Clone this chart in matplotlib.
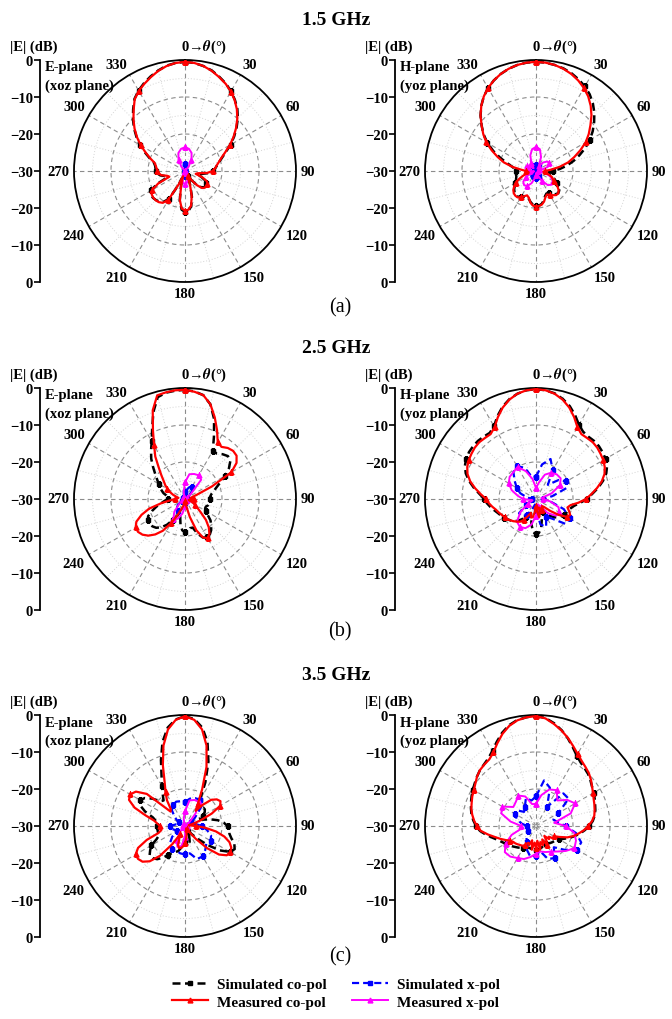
import numpy as np
import matplotlib.pyplot as plt
from matplotlib.lines import Line2D

plt.rcParams['font.family'] = ['Liberation Serif', 'DejaVu Serif']
plt.rcParams['font.weight'] = 'bold'
plt.rcParams['mathtext.fontset'] = 'stix'

th5 = np.arange(0, 361, 5)
th10 = np.arange(0, 361, 10)

# ---------------- 1.5 GHz, E-plane ----------------
e15_sim_co = [-0.5, -0.7, -1.2, -1.9, -2.9, -3.9, -5.1, -6.5, -8, -9.8, -11.8, -13.8,
              -15.8, -17.8, -19.3, -20.4, -21.2, -21.8, -22.3, -23.5, -25.5, -26.5, -25.3, -24,
              -23.3, -23, -23.2, -23.8, -25.2, -27, -28.3, -27.8, -25.8, -22.8, -20.3, -19.2,
              -19, -19.5, -21.8, -25.8, -28.3, -25.8, -21.3, -19.8, -19.2, -18.9, -18.7, -18.8,
              -19.5, -21.5, -24.8, -24.6, -23.2, -22.5, -22.2, -22, -21.8, -21.3, -19.8, -18,
              -16, -14, -12, -10.1, -8.2, -6.2, -4.9, -3.8, -2.8, -1.9, -1.1, -0.7,
              -0.5]
e15_meas_co = [-0.5, -0.7, -1.2, -2, -3, -4, -5.2, -6.6, -8.2, -10, -12, -14,
               -16, -18, -19.5, -20.5, -21.3, -21.8, -22.5, -24, -26.5, -27, -25, -23.5,
               -23, -22.8, -23, -23.5, -25, -27, -28.5, -28, -26, -23, -20.5, -19.5,
               -19.3, -19.8, -22, -26, -28.5, -26, -21, -19.5, -19, -18.8, -18.8, -19,
               -19.8, -22, -25.5, -25, -23.5, -22.8, -22.5, -22.3, -22, -21.5, -20, -18.3,
               -16.2, -14.2, -12.2, -10.3, -8.4, -6.3, -5, -4, -3, -2, -1.2, -0.7,
               -0.5]
e15_sim_x = [-28, -28.3, -29.2, -30, -30, -30, -30, -30, -30, -30,
             -30, -30, -30, -30, -30, -30, -29.8, -29.2, -28.7, -29.2,
             -29.8, -30, -30, -30, -30, -30, -30, -30, -30, -30,
             -30, -30, -30, -30, -29.2, -28.3, -28]
e15_meas_x = [-23.6, -23.9, -24.8, -26.5, -28.5, -30, -30, -30, -30, -30,
              -30, -30, -30, -30, -30, -29.5, -28, -26.8, -26.4, -26.8,
              -28, -29.5, -30, -30, -30, -30, -30, -30, -30, -30,
              -30, -30, -28.5, -26.5, -24.8, -23.9, -23.6]

# ---------------- 1.5 GHz, H-plane ----------------
h15_sim_co = [-0.5, -0.6, -0.9, -1.3, -1.9, -2.7, -3.6, -4.7, -6.1, -7.7, -9.5, -11.3,
              -13.2, -15.3, -17.5, -19.5, -21.5, -23.5, -25.5, -26.5, -26.5, -25.8, -25, -24.3,
              -23.5, -22.5, -21.8, -21.5, -21.8, -22.5, -23, -23.3, -22.8, -21.8, -21, -20.6,
              -20.5, -20.8, -21.5, -22.3, -22.7, -22.3, -21.8, -21.5, -21.5, -21.8, -22.3, -23,
              -23.5, -24, -24.3, -24.5, -24.5, -24.5, -24.5, -24.3, -23.5, -22, -19.8, -17.3,
              -14.8, -12.7, -10.8, -8.8, -7, -5.4, -4.1, -3, -2.1, -1.4, -0.9, -0.6,
              -0.5]
h15_meas_co = [-0.5, -0.6, -0.9, -1.4, -2.1, -3, -4.1, -5.4, -7, -8.8, -10.8, -12.6,
               -14.5, -16.8, -19, -21, -23.5, -26, -27.5, -28, -27.5, -26.5, -25.5, -25,
               -24.5, -23, -22, -21.5, -21.5, -22, -22.5, -23, -22.5, -21.5, -20.8, -20.5,
               -20.4, -20.6, -21.3, -22.5, -23, -22.5, -21.8, -21.3, -21.3, -21.5, -22, -22.8,
               -23.7, -25, -26.3, -27.5, -28, -27.8, -27.3, -26, -23.5, -21, -19, -16.8,
               -14.5, -12.6, -10.8, -8.8, -7, -5.4, -4.1, -3, -2.1, -1.4, -0.9, -0.6,
               -0.5]
h15_sim_x = [-28.5, -28.5, -29, -28.5, -28, -28.5, -29.5, -29.5, -29.5, -29.5,
             -29.5, -29.5, -29.5, -28.5, -28, -28.5, -29, -28.5, -28, -28.5,
             -29, -28.5, -28, -28.5, -29.5, -29.5, -29.5, -29.5, -29.5, -29.5,
             -29.5, -28.5, -28, -28.5, -29, -28.5, -28.5]
h15_meas_x = [-23.5, -24, -26, -28.5, -27, -26, -25.8, -26.5, -28.5, -29.5,
              -28, -26, -24.7, -24.3, -25, -27, -29, -29.5, -29, -28,
              -26.5, -25.3, -25, -25.5, -27, -29, -29.5, -28.5, -27.5, -27,
              -27.3, -28.5, -29, -27.5, -25.5, -24, -23.5]

# ---------------- 2.5 GHz, E-plane ----------------
e25_sim_co = [-0.5, -0.8, -1.5, -3.5, -7, -11.5, -15, -15, -14.2, -13.6, -14, -15.5,
              -17.5, -19.5, -21, -22, -22.8, -23.2, -23.3, -23.2, -23.3, -23.5, -24, -24,
              -23.5, -22.5, -21, -20, -19, -18.3, -18, -18.5, -20, -22, -22, -21,
              -21, -21.5, -23, -25, -26, -25, -23.5, -21.5, -20, -19, -18.5, -18.3,
              -18.4, -19, -20.5, -22, -23.5, -24.5, -25.5, -25.5, -25, -24, -23.3, -22.5,
              -21.8, -20.8, -19.5, -17.8, -15.8, -14, -12, -9, -5, -1.5, -0.8, -0.6,
              -0.5]
e25_meas_co = [-0.5, -0.9, -1.5, -3.5, -6.5, -9.5, -12.3, -12.8, -12, -11.6, -11.8, -13,
               -15.5, -22, -26.5, -28, -28.5, -28, -27.5, -28, -28.5, -29, -28.5, -27.5,
               -27, -26, -24.5, -22, -20, -18.5, -17.8, -18.5, -21, -25, -28, -29,
               -29.5, -29, -28.5, -28, -27, -25, -22.5, -19.5, -17.5, -16, -15, -14.5,
               -14.6, -15.5, -17.5, -20, -23.5, -26, -27.3, -28, -28.2, -27.5, -26.5, -25.5,
               -24.5, -23.5, -22.5, -21, -19, -16, -13.3, -9.5, -4.5, -1, -0.7, -0.5,
               -0.5]
e25_sim_x = [-28, -27.5, -26.6, -26.2, -26.8, -28.5, -29.5, -29.5, -29.5, -29.5,
             -29.5, -29.5, -29.5, -29.5, -29.5, -29.5, -29.5, -29.5, -29, -28,
             -26.8, -26.1, -26.3, -27.5, -29, -29.5, -29.5, -29.5, -29.5, -29.5,
             -29.5, -29.5, -29.5, -29.5, -29.5, -29, -28]
e25_meas_x = [-25.5, -23.2, -22.8, -22.6, -23.2, -28, -29.5, -29.5, -29.5, -29.5,
              -29.5, -29.5, -29.5, -29.5, -29.5, -29.5, -29.5, -29.5, -28, -26,
              -24.3, -23.7, -25.5, -28, -29.5, -29.5, -29.5, -29.5, -29.5, -29.5,
              -29.5, -29.5, -29.5, -29.5, -29.5, -28, -25.5]

# ---------------- 2.5 GHz, H-plane ----------------
h25_sim_co = [-0.3, -0.5, -1, -2, -3.3, -5, -6.8, -7.8, -8, -7.8, -7.8, -8,
              -8.3, -8.8, -9.8, -11.3, -13, -14.8, -16.3, -18, -19.5, -20.3, -20.8, -21,
              -21.3, -21.8, -22.3, -23, -24, -25, -26, -26.5, -26, -24, -22, -20.8,
              -20.5, -21, -23, -25, -26, -25.5, -24.5, -23.3, -22.3, -21.5, -21, -20.5,
              -20, -19.5, -19, -18.3, -17.5, -16.7, -16, -14.7, -13, -11.3, -9.8, -8.8,
              -8.2, -7.9, -7.8, -7.8, -8, -8.2, -7.3, -5.3, -3.5, -2.1, -1.1, -0.5,
              -0.3]
h25_meas_co = [-0.3, -0.5, -1.1, -2.2, -3.7, -5.6, -7.6, -8.6, -8.5, -8.3, -8.4, -8.7,
               -9, -9.5, -10.3, -11.6, -13.3, -15, -16.5, -18.5, -20.5, -21.2, -20.5, -19.8,
               -20.3, -22.5, -25, -27, -27.5, -27, -26.5, -27, -27.5, -26, -25, -26.5,
               -28, -26.5, -25, -24.8, -26, -25, -23.5, -22.5, -22, -21.5, -21, -20.5,
               -20.2, -19.8, -19.3, -18.8, -18, -17.2, -16.5, -15, -13.3, -11.6, -10.3, -9.5,
               -9, -8.7, -8.4, -8.3, -8.5, -8.6, -7.6, -5.6, -3.7, -2.2, -1.1, -0.5,
               -0.3]
h25_sim_x = [-24, -20.5, -18.5, -21, -25, -22, -20.5, -21, -25.5, -28,
             -26, -22, -19.5, -19.5, -23, -24.5, -22, -23, -27, -28.5,
             -27, -25, -24, -24, -27, -29, -29.5, -29, -27.5, -25.5,
             -24, -22.5, -20.5, -19.8, -21, -24, -24]
h25_meas_x = [-27, -25.5, -23, -21.8, -21.3, -21.3, -22.5, -25.5, -28.5, -28,
              -26, -23.5, -22.8, -23, -25, -27.5, -28.5, -27, -25.5, -23,
              -21.6, -21.3, -22, -24.5, -27.5, -29, -28.5, -26.5, -25, -23,
              -21.5, -20.7, -20.5, -20, -22, -24.5, -27]

# ---------------- 3.5 GHz, E-plane ----------------
e35_sim_co = [-0.3, -1, -3, -6.5, -11.5, -17, -22, -24.5, -24, -23, -23, -23.5,
              -24.5, -25.5, -25, -23, -21, -19.5, -18.5, -18, -17.8, -17, -15.8, -15.2,
              -16, -18.5, -22, -25, -27, -28, -28.5, -28, -26.5, -25, -24.5, -25,
              -26, -25.5, -24, -23, -22.5, -22, -21, -19.5, -18.3, -17.7, -17.5, -18.5,
              -19.5, -21.5, -22.5, -22.5, -22.5, -22.5, -22.5, -22.5, -22, -21, -18.5, -16.5,
              -16, -16.8, -18.5, -20.5, -21, -19.5, -17.5, -15, -11, -6.5, -3, -1.1,
              -0.3]
e35_meas_co = [-0.3, -1.2, -3.5, -7.5, -13, -19, -23, -25, -22.5, -20, -18.8, -18.3,
               -19, -22, -25.5, -28, -29, -28.5, -27, -24.5, -21.5, -19, -17.2, -16.2,
               -15.9, -16.2, -18, -21.5, -25.5, -28, -29, -29.3, -29, -28.5, -27.5, -26.5,
               -25.5, -24.5, -24, -23.8, -24.5, -26.5, -27.5, -24, -19.5, -16.5, -15, -14.5,
               -14.6, -16, -19, -22.5, -23.5, -23.3, -23.2, -22.5, -21.5, -19, -15.5, -13.3,
               -12.9, -13.8, -16.5, -24.5, -24, -21.5, -19.5, -17, -12.5, -7.5, -3.5, -1.2,
               -0.3]
e35_sim_x = [-23.5, -22.5, -22, -21.8, -23, -26.5, -28, -28, -27, -25.5,
             -24, -22.5, -22, -22.5, -21.5, -20.5, -20.5, -22.5, -22.3, -22.5,
             -23, -22.8, -23.5, -25.5, -27.5, -27, -26, -26, -27.5, -28.5,
             -28, -26.5, -24.5, -23.5, -23, -23.2, -23.5]
e35_meas_x = [-26, -23, -22.5, -22.5, -25.5, -28.5, -29.5, -29.5, -29.5, -29.5,
              -29.5, -29.5, -29.5, -29.5, -29.5, -29.5, -29.5, -29.5, -27, -24.5,
              -24, -25.5, -28, -29.5, -29.5, -29.5, -29.5, -29.5, -29.5, -29.5,
              -29.5, -29.5, -29.5, -29.5, -29.5, -28, -26]

# ---------------- 3.5 GHz, H-plane ----------------
h35_sim_co = [-0.3, -0.7, -1.8, -3.2, -4.8, -6.5, -8, -9, -9.6, -10.1, -10.8, -11.5,
              -12, -12.5, -13, -13.4, -13.9, -14.6, -15.6, -16.8, -18, -19.3, -20.5, -21.8,
              -22.8, -23.3, -23.6, -23.8, -24, -24.3, -24.5, -24.5, -24.3, -24, -23.8, -23.6,
              -23.5, -23.5, -23.6, -23.8, -23.8, -23.5, -23.2, -22.8, -22.4, -22, -21.5, -21,
              -20.5, -19.8, -19, -17.8, -16.3, -14.8, -13.8, -13, -12.3, -11.8, -11.3, -10.8,
              -10.3, -9.8, -9.2, -8.6, -8.2, -7.6, -6.5, -4.9, -3.2, -1.8, -0.9, -0.5,
              -0.3]
h35_meas_co = [-0.3, -0.8, -2, -3.3, -4.7, -6.2, -7.5, -8.5, -9.2, -9.8, -10.6, -11.5,
               -12.2, -12.8, -13.2, -13.6, -14, -14.8, -15.9, -17, -18.3, -19.5, -21, -23,
               -24.5, -24, -25.5, -25, -26.5, -25, -24, -26, -24.5, -25.5, -23.5, -26,
               -24, -25.5, -23.5, -26, -24.5, -25, -24, -23.5, -23.3, -23, -22.7, -22.5,
               -22, -21, -19.8, -18.5, -16.8, -15, -14, -13.2, -12.5, -11.9, -11.5, -11,
               -10.6, -10, -9.2, -8.6, -8.3, -8, -7, -5.3, -3.5, -2, -1, -0.5,
               -0.3]
h35_sim_x = [-22, -17.5, -19, -24, -18.5, -18.5, -23, -25, -24, -22,
             -19, -17, -17.2, -20, -22.5, -20, -20.5, -23, -22, -21.5,
             -23, -25, -26, -27, -27.5, -28, -28, -27.5, -26, -24.5,
             -23.3, -23.5, -25, -24, -22, -23, -22]
h35_meas_x = [-24, -21.5, -19.5, -18.8, -21, -19, -17.8, -20, -25, -22,
              -19.5, -18.5, -18, -19.5, -21, -22, -22.5, -23, -22.5, -21.5,
              -20.5, -20, -19.2, -19, -20.5, -23, -26, -26, -23, -20,
              -19.5, -22, -21.5, -20.5, -21.5, -24, -24]

freq_titles = ['1.5 GHz', '2.5 GHz', '3.5 GHz']
sub_tags = ['(a)', '(b)', '(c)']
plane_names = [('E-plane', '(xoz plane)'), ('H-plane', '(yoz plane)')]
theta_labels = [30, 60, 90, 120, 150, 180, 210, 240, 270, 300, 330]
r_tick_labels = ['0', '\u221210', '\u221220', '\u221230', '\u221220', '\u221210', '0']
legend_names = ['Simulated co-pol', 'Measured co-pol', 'Simulated x-pol', 'Measured x-pol']

panels = [
    [(e15_sim_co, e15_meas_co, e15_sim_x, e15_meas_x), (h15_sim_co, h15_meas_co, h15_sim_x, h15_meas_x)],
    [(e25_sim_co, e25_meas_co, e25_sim_x, e25_meas_x), (h25_sim_co, h25_meas_co, h25_sim_x, h25_meas_x)],
    [(e35_sim_co, e35_meas_co, e35_sim_x, e35_meas_x), (h35_sim_co, h35_meas_co, h35_sim_x, h35_meas_x)],
]

W, H = 672, 1020
R = 111
col_cx = [185, 536]
col_lx = [40, 395]
row_cy = [172, 500, 827]
tag_y = [308, 632, 957]

sim_co_style = dict(color='k', lw=1.8, dashes=(3.2, 1.8), marker='s', ms=3.5)
sim_x_style = dict(color='#0000ff', lw=1.6, dashes=(3.2, 1.8), marker='s', ms=3.5)
meas_co_style = dict(color='#ff0000', lw=1.6, marker='^', ms=3.5)
meas_x_style = dict(color='#ff00ff', lw=1.4, marker='^', ms=3.5)

fig = plt.figure(figsize=(W / 100, H / 100), dpi=100)


def polar_panel(cx, cy, lx, plane, sim_co, meas_co, sim_x, meas_x):
    ax = fig.add_axes([(cx - R) / W, 1 - (cy + R) / H, 2 * R / W, 2 * R / H],
                      projection='polar')
    ax.set_theta_zero_location('N')
    ax.set_theta_direction(-1)
    ax.plot(np.deg2rad(th5), sim_co, markevery=6, zorder=3, **sim_co_style)
    ax.plot(np.deg2rad(th10), sim_x, markevery=3, zorder=3, **sim_x_style)
    ax.plot(np.deg2rad(th10), meas_x, markevery=3, zorder=4, **meas_x_style)
    ax.plot(np.deg2rad(th5), meas_co, markevery=6, zorder=5, **meas_co_style)
    ax.set_ylim(-30, 0)
    ax.set_xticks(np.deg2rad(np.arange(0, 360, 30)))
    ax.set_xticks(np.deg2rad(np.arange(15, 360, 30)), minor=True)
    ax.set_yticks([-20, -10])
    ax.set_yticks([-25, -15, -5], minor=True)
    ax.set_xticklabels([])
    ax.set_yticklabels([])
    ax.grid(which='major', color='#8c8c8c', lw=0.8, ls=(0, (4, 3)))
    ax.grid(which='minor', color='#d4d4d4', lw=0.7, ls=(0, (1, 2)))
    ax.tick_params(axis='x', which='major', direction='in', length=5, width=1, color='k')
    ax.tick_params(axis='x', which='minor', length=0)
    ax.tick_params(axis='y', which='both', length=0)
    ax.spines['polar'].set_linewidth(1.3)
    ax.set_axisbelow(True)

    for a in theta_labels:
        s, c = np.sin(np.deg2rad(a)), np.cos(np.deg2rad(a))
        ha = 'left' if s > 0.1 else ('right' if s < -0.1 else 'center')
        va = 'bottom' if c > 0.1 else ('top' if c < -0.1 else 'center')
        ax.text(np.deg2rad(a), 1.3, str(a), ha=ha, va=va, fontsize=10.5)
    ax.annotate('0\u2192$\\theta$(°)', xy=(0, 0), xytext=(-2.7, 3.5),
                textcoords='offset points', ha='left', va='bottom', fontsize=10.5,
                annotation_clip=False)

    # linear dB scale drawn beside the polar plot
    axl = fig.add_axes([lx / W, 1 - (cy + R) / H, 0.0001, 2 * R / H])
    axl.set_ylim(-30, 30)
    axl.set_yticks([30, 20, 10, 0, -10, -20, -30])
    axl.set_yticklabels(r_tick_labels)
    axl.set_xticks([])
    for s in ['top', 'right', 'bottom']:
        axl.spines[s].set_visible(False)
    axl.spines['left'].set_linewidth(1.3)
    axl.tick_params(axis='y', direction='out', length=4, width=1.2, pad=1, labelsize=10.5)
    axl.patch.set_visible(False)

    fig.text((lx - 30) / W, 1 - (cy - 125) / H, '|E| (dB)', ha='left', va='center', fontsize=10.5)
    fig.text((lx + 5) / W, 1 - (cy - 104) / H, plane[0], ha='left', va='center', fontsize=10.5)
    fig.text((lx + 5) / W, 1 - (cy - 86) / H, plane[1], ha='left', va='center', fontsize=10.5)
    return ax


for i in range(3):
    cy = row_cy[i]
    fig.text(0.5, 1 - (cy - 151.5) / H, freq_titles[i], ha='center', va='center', fontsize=14)
    for j in range(2):
        polar_panel(col_cx[j], cy, col_lx[j], plane_names[j], *panels[i][j])
    fig.text(340 / W, 1 - tag_y[i] / H, sub_tags[i], ha='center', va='center',
             fontsize=14.5, fontweight='normal')

handles = [Line2D([], [], **sim_co_style), Line2D([], [], **meas_co_style),
           Line2D([], [], **sim_x_style), Line2D([], [], **meas_x_style)]
fig.legend(handles, legend_names, loc='center', bbox_to_anchor=(0.5, 1 - 994 / H), ncol=2,
           frameon=False, fontsize=11, handlelength=2.4, columnspacing=1.6,
           labelspacing=0.25, handletextpad=0.6)

fig.savefig('out.png', dpi=100)
